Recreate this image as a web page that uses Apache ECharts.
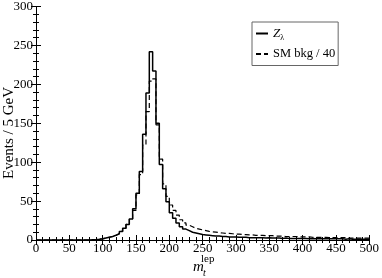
<!DOCTYPE html>
<html>
<head>
<meta charset="utf-8">
<script src="https://cdn.jsdelivr.net/npm/echarts@6/dist/echarts.min.js"></script>
<style>html,body{margin:0;padding:0;background:#fff}#c{width:382px;height:278px}</style>
</head>
<body>
<div id="c"></div>
<script>
// Bin width 5 GeV, lower edges from 0 to 495
var binWidth = 5;
var zLambda = [
  0,0,0,0,0,0,0,0,0,0, 0,0,0,0,0,0,0.3,0.6,1,1.5,
  2.5,3.5,4.5,6,8,11,15,20,27,40, 60,88,136,189,242,217,150,97,66,49,
  35,28,22,17,14,12,10,9,8,7, 6.5,6,5.5,5,5,4.5,4.5,4,4,4,
  3.5,3.5,3.5,3,3,3,3,3,2.5,3, 2.5,2.5,2.5,2,2.5,2,2,2,2,2,
  2,1.5,2,1.5,1.5,1.5,1.5,1.5,1.5,1.5, 1.5,1.5,1,1.5,1,1,1,1,1,1
];
var smBkg = [
  0,0,0,0,0,0,0,0,0,0, 0,0,0,0,0,0,0.3,0.6,1,1.5,
  2.5,3.5,4.5,6,8,11,15,20,27,38, 58,84,122,165,204,207,148,104,72,56,
  45,38,32,26,22,19,17,15,14,13, 12,11,10.5,10,9.5,9,8.5,8.5,8,7.5,
  7.5,7,7,6.5,6.5,6,6,6,5.5,5.5, 5.5,5,5,5,4.5,4.5,4.5,4.5,4,4,
  4,4,3.5,3.5,3.5,3.5,3.5,3,3,3, 3,3,3,2.5,2.5,2.5,2.5,2.5,2.5,2.5
];
var xTicks = [0,50,100,150,200,250,300,350,400,450,500];
var yTicks = [0,50,100,150,200,250,300];

function steps(vals){
  var d = [];
  for (var i = 0; i < vals.length; i++) d.push([i*binWidth, vals[i]]);
  d.push([vals.length*binWidth, vals[vals.length-1]]);
  return d;
}
var FONT = 'Liberation Serif';
var chart = echarts.init(document.getElementById('c'), null, {renderer:'canvas'});
function axisCommon(show){
  return {
    axisLine:{show:true, lineStyle:{color:'#000', width:1}},
    axisTick:{show:true, inside:true, length:5, lineStyle:{color:'#000'}},
    minorTick:{show:true, splitNumber:5, length:3, lineStyle:{color:'#000'}},
    splitLine:{show:false},
    axisLabel:{show:show, color:'#000', fontFamily:FONT, fontSize:13}
  };
}
var x0 = Object.assign(axisCommon(true), {type:'value', position:'bottom', min:xTicks[0], max:xTicks[xTicks.length-1], interval:50});
x0.axisLabel.margin = 2;
var x1 = Object.assign(axisCommon(false), {type:'value', position:'top', min:xTicks[0], max:xTicks[xTicks.length-1], interval:50});
var y0 = Object.assign(axisCommon(true), {type:'value', position:'left', min:yTicks[0], max:yTicks[yTicks.length-1], interval:50});
y0.axisLabel.margin = 3;
var y1 = Object.assign(axisCommon(false), {type:'value', position:'right', min:yTicks[0], max:yTicks[yTicks.length-1], interval:50});

chart.setOption({
  animation:false,
  grid:{left:36, right:12, top:5, bottom:38, containLabel:false},
  xAxis:[x0, x1],
  yAxis:[y0, y1],
  legend:{
    orient:'vertical', left:252, top:22,
    padding:[5,3,5,3], itemGap:6, itemWidth:12, itemHeight:10,
    borderColor:'#666', borderWidth:1, backgroundColor:'#fff',
    itemStyle:{opacity:0},
    textStyle:{color:'#000', fontFamily:FONT, fontSize:12.5,
      rich:{z:{fontFamily:FONT, fontStyle:'italic', fontSize:13, color:'#000'},
            s:{fontFamily:FONT, fontSize:8, color:'#000', padding:[8,0,0,0]}}},
    formatter:function(n){ return n === 'Z' ? '{z|Z}{s|λ}' : n; },
    data:['Z','SM bkg / 40']
  },
  series:[
    {name:'Z', type:'line', step:'end', data:steps(zLambda), xAxisIndex:0, yAxisIndex:0,
     symbol:'none', lineStyle:{color:'#000', width:1.5}, itemStyle:{color:'#000'}},
    {name:'SM bkg / 40', type:'line', step:'end', data:steps(smBkg), xAxisIndex:0, yAxisIndex:0,
     symbol:'none', lineStyle:{color:'#000', width:1.2, type:[5,3]}, itemStyle:{color:'#000'}}
  ],
  graphic:[
    {type:'text', rotation:Math.PI/2, x:9, y:133,
     style:{text:'Events / 5 GeV', font:'15px "Liberation Serif"', fill:'#000', align:'center', verticalAlign:'middle'}},
    {type:'text', x:193, y:260, style:{text:'m', font:'italic 15px "Liberation Serif"', fill:'#000'}},
    {type:'text', x:201, y:254, style:{text:'lep', font:'11px "Liberation Serif"', fill:'#000'}},
    {type:'text', x:203, y:268, style:{text:'t', font:'italic 10px "Liberation Serif"', fill:'#000'}}
  ]
});
</script>
</body>
</html>
